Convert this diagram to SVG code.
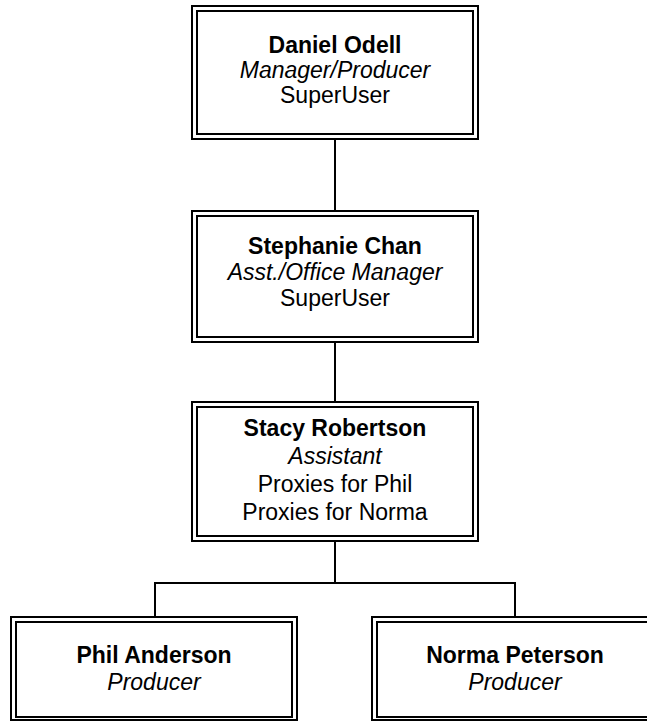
<svg xmlns="http://www.w3.org/2000/svg" width="647" height="721" viewBox="0 0 647 721">
<style>
.o{fill:none;stroke:#000;stroke-width:2}
.i{fill:none;stroke:#000;stroke-width:2}
.c{fill:none;stroke:#000;stroke-width:2}
text{font-family:"Liberation Sans",Arial,sans-serif;font-size:23px;fill:#000;text-anchor:middle}
.b{font-weight:bold}
.it{font-style:italic}
</style>
<rect width="647" height="721" fill="#fff"/>
<g id="connectors">
<line class="c" x1="335" y1="139" x2="335" y2="211"/>
<line class="c" x1="335" y1="342" x2="335" y2="402"/>
<polyline class="c" points="335,541 335,583"/>
<polyline class="c" points="155,617 155,583 515,583 515,617"/>
</g>
<g id="daniel">
<rect class="o" x="192" y="6" width="286" height="133"/>
<rect class="i" x="197" y="11" width="276" height="123"/>
<text x="335" y="53" class="b">Daniel Odell</text>
<text x="335" y="78" class="it">Manager/Producer</text>
<text x="335" y="103">SuperUser</text>
</g>
<g id="stephanie">
<rect class="o" x="192" y="211" width="286" height="131"/>
<rect class="i" x="197" y="216" width="276" height="121"/>
<text x="335" y="254" class="b">Stephanie Chan</text>
<text x="335" y="280" class="it">Asst./Office Manager</text>
<text x="335" y="306">SuperUser</text>
</g>
<g id="stacy">
<rect class="o" x="192" y="402" width="286" height="139"/>
<rect class="i" x="197" y="407" width="276" height="129"/>
<text x="335" y="436" class="b">Stacy Robertson</text>
<text x="335" y="464" class="it">Assistant</text>
<text x="335" y="492">Proxies for Phil</text>
<text x="335" y="520">Proxies for Norma</text>
</g>
<g id="phil">
<rect class="o" x="11" y="617" width="286" height="103"/>
<rect class="i" x="16" y="622" width="276" height="95"/>
<text x="154" y="663" class="b">Phil Anderson</text>
<text x="154" y="690" class="it">Producer</text>
</g>
<g id="norma">
<rect class="o" x="372" y="617" width="286" height="103"/>
<rect class="i" x="377" y="622" width="276" height="95"/>
<text x="515" y="663" class="b">Norma Peterson</text>
<text x="515" y="690" class="it">Producer</text>
</g>
</svg>
